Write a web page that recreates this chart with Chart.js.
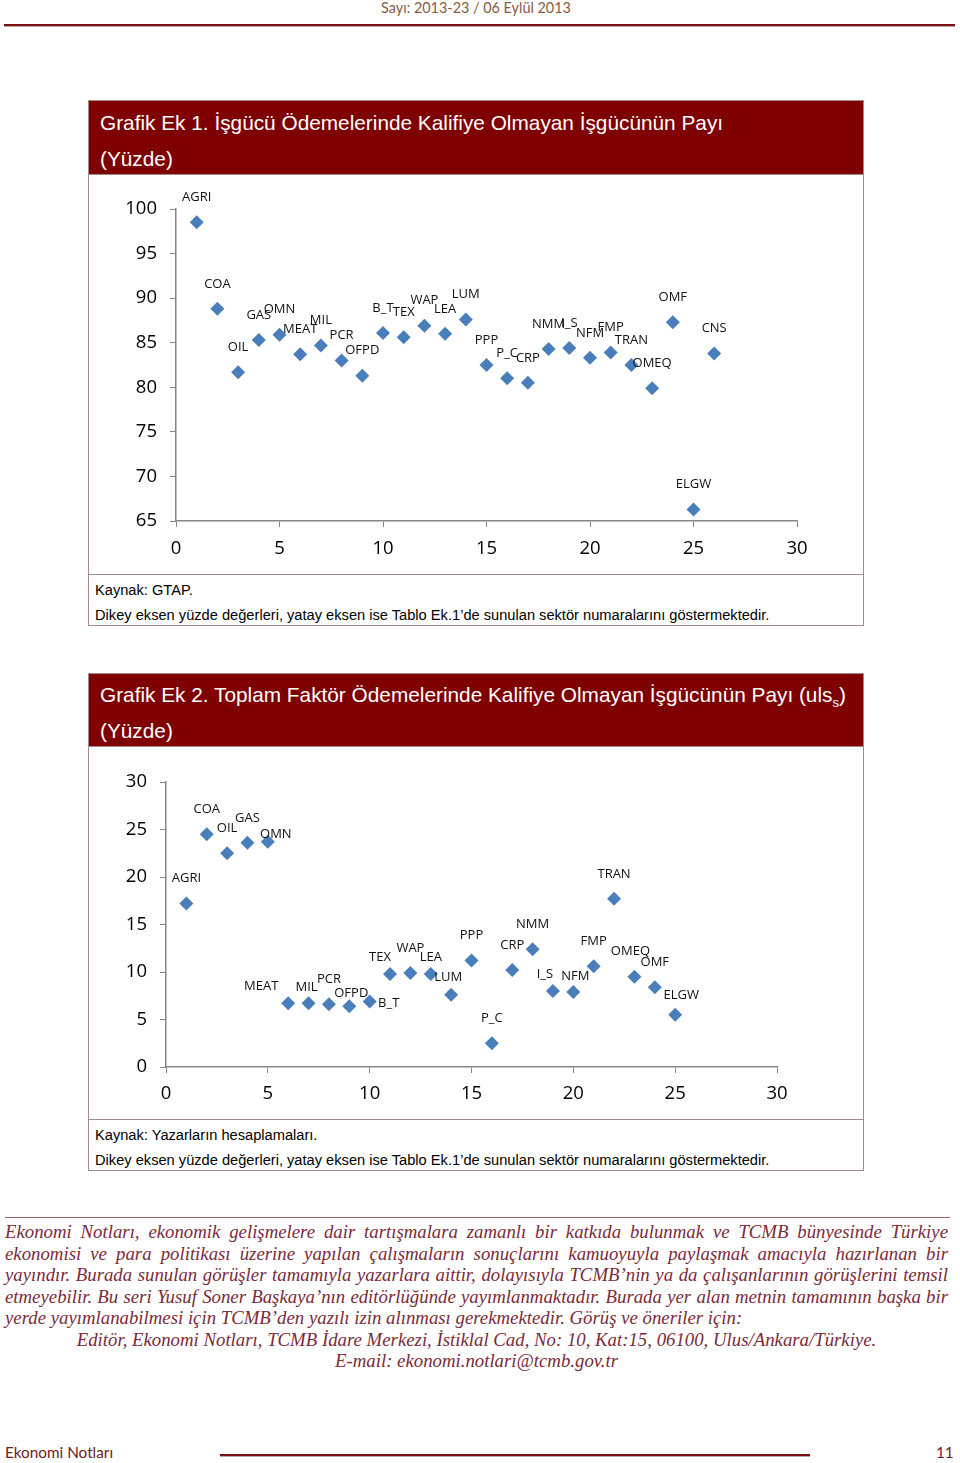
<!DOCTYPE html>
<html lang="tr">
<head>
<meta charset="utf-8">
<script src="https://cdn.jsdelivr.net/npm/chart.js@4"></script>
<style>
  body { margin: 0; width: 960px; height: 1463px; position: relative; background: #fff; font-family: "Liberation Sans", Arial, sans-serif; }
  .abs { position: absolute; }
  .header { left: 0; width: 952px; top: 0; text-align: center; font: 14.4px Lato, "Liberation Sans", sans-serif; color: #8a5a48; line-height: 16px; }
  .rule { height: 2px; background: #7a0f14; box-shadow: 0 1px 0 #b9a6a6; }
  .box { left: 88px; width: 774px; border: 1px solid #a58a8a; }
  .title { background: #7f0000; color: #fff; font-size: 20.8px; box-sizing: border-box; }
  .title div { position: absolute; left: 11px; line-height: 24px; white-space: nowrap; }
  .cell { border-top: 1px solid #a58a8a; position: relative; }
  .src { font-size: 14.65px; color: #000; }
  .src div { position: absolute; left: 6px; line-height: 18px; white-space: nowrap; }
  .note { left: 5px; width: 943px; font: italic 18.8px "Liberation Serif", "Times New Roman", serif; color: #7b2b3a; line-height: 21.5px; }
  .note div { white-space: nowrap; }
  .note .j { text-align: justify; text-align-last: justify; }
  .note .c { text-align: center; }
  .foot { font: 15.3px Lato, "Liberation Sans", sans-serif; color: #6b2222; }
</style>
</head>
<body>
<div class="abs header" style="top:0">Sayı: 2013-23 / 06 Eylül 2013</div>
<div class="abs rule" style="left:4px; width:951px; top:24px"></div>

<!-- Grafik 1 -->
<div class="abs box" style="top:100px; height:524px">
  <div class="title" style="position:relative; height:73px">
    <div style="top:10px">Grafik Ek 1. İşgücü Ödemelerinde Kalifiye Olmayan İşgücünün Payı</div>
    <div style="top:46px">(Yüzde)</div>
  </div>
  <div class="cell" style="height:399px"><canvas id="c1" width="774" height="398"></canvas></div>
  <div class="cell src" style="height:51px">
    <div style="top:6px">Kaynak: GTAP.</div>
    <div style="top:31px">Dikey eksen yüzde değerleri, yatay eksen ise Tablo Ek.1’de sunulan sektör numaralarını göstermektedir.</div>
  </div>
</div>

<!-- Grafik 2 -->
<div class="abs box" style="top:673px; height:496px">
  <div class="title" style="position:relative; height:72px">
    <div style="top:9px">Grafik Ek 2. Toplam Faktör Ödemelerinde Kalifiye Olmayan İşgücünün Payı (uls<sub style="font-size:13px">s</sub>)</div>
    <div style="top:45px">(Yüzde)</div>
  </div>
  <div class="cell" style="height:372px"><canvas id="c2" width="774" height="371"></canvas></div>
  <div class="cell src" style="height:51px">
    <div style="top:6px">Kaynak: Yazarların hesaplamaları.</div>
    <div style="top:31px">Dikey eksen yüzde değerleri, yatay eksen ise Tablo Ek.1’de sunulan sektör numaralarını göstermektedir.</div>
  </div>
</div>

<div class="abs" style="left:5px; width:945px; top:1217px; height:1px; background:#9a6a6a"></div>
<div class="abs note" style="top:1221px">
  <div class="j">Ekonomi Notları, ekonomik gelişmelere dair tartışmalara zamanlı bir katkıda bulunmak ve TCMB bünyesinde Türkiye</div>
  <div class="j">ekonomisi ve para politikası üzerine yapılan çalışmaların sonuçlarını kamuoyuyla paylaşmak amacıyla hazırlanan bir</div>
  <div class="j">yayındır. Burada sunulan görüşler tamamıyla yazarlara aittir, dolayısıyla TCMB’nin ya da çalışanlarının görüşlerini temsil</div>
  <div class="j">etmeyebilir. Bu seri Yusuf Soner Başkaya’nın editörlüğünde yayımlanmaktadır. Burada yer alan metnin tamamının başka bir</div>
  <div>yerde yayımlanabilmesi için TCMB’den yazılı izin alınması gerekmektedir. Görüş ve öneriler için:</div>
  <div class="c">Editör, Ekonomi Notları, TCMB İdare Merkezi, İstiklal Cad, No: 10, Kat:15, 06100, Ulus/Ankara/Türkiye.</div>
  <div class="c">E-mail: ekonomi.notlari@tcmb.gov.tr</div>
</div>

<div class="abs foot" style="left:5px; top:1443px">Ekonomi Notları</div>
<div class="abs rule" style="left:220px; width:590px; top:1454px"></div>
<div class="abs foot" style="left:936px; top:1443px">11</div>

<script>
// sector numbers (Tablo Ek.1) and names
const sectorNo = [1, 2, 3, 4, 5, 6, 7, 8, 9, 10, 11, 12, 13, 14, 15, 16, 17, 18, 19, 20, 21, 22, 23, 24, 25, 26];
const sectors = ['AGRI', 'COA', 'OIL', 'GAS', 'OMN', 'MEAT', 'MIL', 'PCR', 'OFPD', 'B_T', 'TEX', 'WAP', 'LEA', 'LUM',
  'PPP', 'P_C', 'CRP', 'NMM', 'I_S', 'NFM', 'FMP', 'TRAN', 'OMEQ', 'OMF', 'ELGW', 'CNS'];

// Grafik 1: share of unskilled labour in labour payments (%)
const unskilledLabour = [98.5, 88.8, 81.7, 85.3, 85.9, 83.7, 84.7, 83.0, 81.3, 86.1, 85.6, 86.9, 86.0, 87.6,
  82.5, 81.0, 80.5, 84.3, 84.4, 83.3, 83.9, 82.5, 79.9, 87.3, 66.3, 83.8];

// Grafik 2: share of unskilled labour in total factor payments (%) - no CNS
const unskilledFactor = [17.2, 24.5, 22.5, 23.6, 23.7, 6.7, 6.7, 6.6, 6.4, 6.9, 9.8, 9.9, 9.8, 7.6,
  11.2, 2.5, 10.2, 12.4, 8.0, 7.9, 10.6, 17.7, 9.5, 8.4, 5.5];

const xTicks = [0, 5, 10, 15, 20, 25, 30];
const yTicks1 = [65, 70, 75, 80, 85, 90, 95, 100];
const yTicks2 = [0, 5, 10, 15, 20, 25, 30];

const blue = '#4a7ebb';
const axisGrey = '#868686';
const tickFont = { family: '"Open Sans", sans-serif', size: 18.5 };

// hand-moved labels in Grafik 2 (pixel offset of label centre from the point)
const labelNudge2 = {
  OMN: [8, -8], MEAT: [-27, -17], MIL: [-2, -16], OFPD: [2, -13], B_T: [19, 2], TEX: [-10, -17],
  LEA: [0, -17], LUM: [-3, -18], I_S: [-8, -17], NFM: [2, -16], OMEQ: [-4, -25], ELGW: [6, -19]
};

// labels above each point, Excel style
const pointLabels = {
  id: 'pointLabels',
  afterDatasetsDraw(chart, args, opts) {
    const ctx = chart.ctx;
    const meta = chart.getDatasetMeta(0);
    const nudge = opts.nudge || {};
    ctx.save();
    ctx.font = '13px "Open Sans", sans-serif';
    ctx.fillStyle = '#111';
    ctx.textBaseline = 'middle';
    ctx.textAlign = 'center';
    meta.data.forEach((pt, i) => {
      const name = opts.names[i];
      const [dx, dy] = nudge[name] || [0, -25];
      ctx.fillText(name, pt.x + dx, pt.y + dy);
    });
    ctx.restore();
  }
};

function scatter(id, xs, ys, names, yTicks, cfg) {
  const pts = ys.map((v, i) => ({ x: xs[i], y: v }));
  return new Chart(document.getElementById(id), {
    type: 'scatter',
    data: { datasets: [{ data: pts, pointStyle: 'rectRot', pointRadius: 7, pointHoverRadius: 7,
      backgroundColor: blue, borderColor: blue, borderWidth: 0 }] },
    options: {
      responsive: false,
      animation: false,
      layout: { padding: { left: 0, top: cfg.top, right: cfg.right, bottom: 0 } },
      plugins: {
        legend: { display: false },
        tooltip: { enabled: false },
        pointLabels: { names: names, nudge: cfg.nudge }
      },
      scales: {
        x: {
          type: 'linear', min: xTicks[0], max: xTicks[xTicks.length - 1],
          afterBuildTicks: s => { s.ticks = xTicks.map(v => ({ value: v })); },
          afterFit: s => { s.height = cfg.xh; },
          grid: { drawOnChartArea: false, drawTicks: true, tickLength: 6, color: axisGrey },
          border: { display: true, color: axisGrey, width: 1.5 },
          ticks: { font: tickFont, color: '#000', padding: cfg.xpad, maxRotation: 0 }
        },
        y: {
          type: 'linear', min: yTicks[0], max: yTicks[yTicks.length - 1],
          afterBuildTicks: s => { s.ticks = yTicks.map(v => ({ value: v })); },
          afterFit: s => { s.width = cfg.yw; },
          grid: { drawOnChartArea: false, drawTicks: true, tickLength: 6, color: axisGrey },
          border: { display: true, color: axisGrey, width: 1.5 },
          ticks: { font: tickFont, color: '#000', padding: 13 }
        }
      }
    },
    plugins: [pointLabels]
  });
}

scatter('c1', sectorNo, unskilledLabour, sectors, yTicks1, { top: 34, right: 66, xh: 52, yw: 87, xpad: 11 });
scatter('c2', sectorNo.slice(0, unskilledFactor.length), unskilledFactor, sectors, yTicks2,
  { top: 35, right: 86, xh: 51, yw: 77, xpad: 10, nudge: labelNudge2 });
</script>
</body>
</html>
